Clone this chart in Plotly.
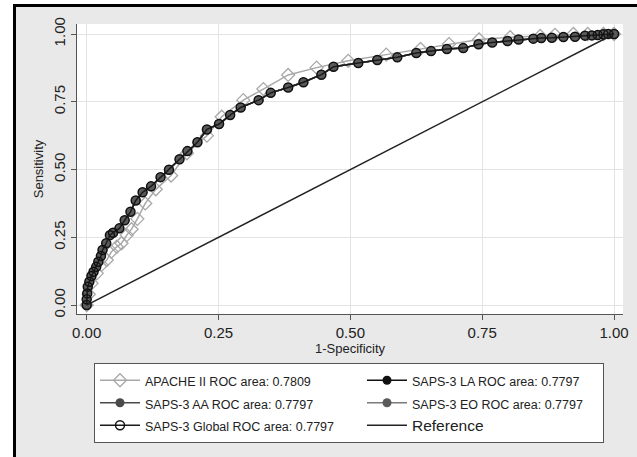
import plotly.graph_objects as go

# ---- data ----
saps_fpr = [0.0, 0.000, 0.001, 0.002, 0.005, 0.009, 0.013, 0.018, 0.022, 0.027, 0.030, 0.037,
            0.044, 0.050, 0.062, 0.072, 0.083, 0.093, 0.106, 0.122, 0.140, 0.156, 0.176, 0.191,
            0.210, 0.228, 0.251, 0.272, 0.292, 0.326, 0.349, 0.382, 0.411, 0.445, 0.468, 0.515,
            0.551, 0.589, 0.625, 0.653, 0.683, 0.714, 0.743, 0.769, 0.798, 0.819, 0.847, 0.862,
            0.882, 0.904, 0.926, 0.945, 0.958, 0.969, 0.980, 0.989, 1.0]
saps_tpr = [0.0, 0.021, 0.043, 0.068, 0.086, 0.107, 0.123, 0.141, 0.160, 0.181, 0.203, 0.228,
            0.258, 0.267, 0.283, 0.313, 0.344, 0.386, 0.416, 0.438, 0.472, 0.499, 0.538, 0.568,
            0.601, 0.648, 0.668, 0.701, 0.729, 0.756, 0.783, 0.803, 0.822, 0.850, 0.879, 0.893,
            0.904, 0.914, 0.930, 0.937, 0.945, 0.948, 0.962, 0.969, 0.974, 0.980, 0.983, 0.985,
            0.986, 0.989, 0.990, 0.994, 0.995, 0.996, 0.999, 1.0, 1.0]

apache_fpr = [0.0, 0.004, 0.009, 0.019, 0.028, 0.038, 0.047, 0.057, 0.066, 0.076, 0.085, 0.096,
              0.111, 0.131, 0.160, 0.190, 0.228, 0.256, 0.297, 0.335, 0.382, 0.436, 0.496, 0.568,
              0.633, 0.687, 0.744, 0.803, 0.860, 0.888, 0.923, 0.950, 0.980, 1.0]
apache_tpr = [0.0, 0.040, 0.080, 0.117, 0.148, 0.166, 0.197, 0.215, 0.228, 0.258, 0.280, 0.318,
              0.375, 0.427, 0.478, 0.560, 0.625, 0.695, 0.756, 0.797, 0.849, 0.876, 0.901, 0.924,
              0.945, 0.963, 0.980, 0.988, 0.993, 0.997, 1.0, 1.0, 1.0, 1.0]

ref_x = [0.0, 1.0]
ref_y = [0.0, 1.0]

tick_vals = [0.0, 0.25, 0.5, 0.75, 1.0]
tick_text = ["0.00", "0.25", "0.50", "0.75", "1.00"]

names = {
    "apache": "APACHE II ROC area: 0.7809",
    "la": "SAPS-3 LA ROC area: 0.7797",
    "aa": "SAPS-3 AA ROC area: 0.7797",
    "eo": "SAPS-3 EO ROC area: 0.7797",
    "glob": "SAPS-3 Global ROC area: 0.7797",
    "ref": "Reference",
}

FONT = "Liberation Sans, Arial, sans-serif"
COL1_W = 212
COL2_W = 186


def small(t, s=12.5):
    return f'<span style="font-size:{s}px">{t}</span>'


fig = go.Figure()
fig.add_trace(go.Scatter(x=apache_fpr, y=apache_tpr, mode="lines+markers", name=small(names["apache"]),
                         legendrank=1, legendwidth=COL1_W,
                         line=dict(color="#a8a8a8", width=1.5),
                         marker=dict(symbol="diamond-open", size=10, color="#a8a8a8", line=dict(width=1.3))))
fig.add_trace(go.Scatter(x=saps_fpr, y=saps_tpr, mode="lines+markers", name=small(names["aa"]),
                         legendrank=3, legendwidth=COL1_W,
                         line=dict(color="#4a4a4a", width=1.5),
                         marker=dict(symbol="circle", size=9, color="#4a4a4a")))
fig.add_trace(go.Scatter(x=saps_fpr, y=saps_tpr, mode="lines+markers", name=small(names["la"]),
                         legendrank=2, legendwidth=COL2_W,
                         line=dict(color="#111111", width=1.5),
                         marker=dict(symbol="circle", size=9, color="#111111")))
fig.add_trace(go.Scatter(x=saps_fpr, y=saps_tpr, mode="lines+markers", name=small(names["eo"]),
                         legendrank=4, legendwidth=COL2_W,
                         line=dict(color="#7a7a7a", width=1.5),
                         marker=dict(symbol="circle", size=9, color="#5a5a5a")))
fig.add_trace(go.Scatter(x=saps_fpr, y=saps_tpr, mode="lines+markers", name=small(names["glob"]),
                         legendrank=5, legendwidth=COL1_W,
                         line=dict(color="#1a1a1a", width=1.5),
                         marker=dict(symbol="circle-open", size=9, color="#111111", line=dict(width=1.5))))
fig.add_trace(go.Scatter(x=ref_x, y=ref_y, mode="lines", name=small(names["ref"], 15.5),
                         legendrank=6, legendwidth=COL2_W,
                         line=dict(color="#222222", width=1.5)))


def px_x(p):
    return (p - 77) / 546.0


def px_y(p):
    return (314 - p) / 290.0


shapes = [
    dict(type="rect", xref="paper", yref="paper", x0=px_x(0), x1=px_x(13), y0=px_y(457), y1=px_y(0),
         fillcolor="white", line=dict(width=0), layer="below"),
    dict(type="rect", xref="paper", yref="paper", x0=px_x(0), x1=px_x(637), y0=px_y(4), y1=px_y(0),
         fillcolor="white", line=dict(width=0), layer="below"),
    dict(type="line", xref="paper", yref="paper", x0=px_x(14.5), x1=px_x(14.5), y0=px_y(457), y1=px_y(4),
         line=dict(color="black", width=3)),
    dict(type="line", xref="paper", yref="paper", x0=px_x(13), x1=px_x(637), y0=px_y(5.5), y1=px_y(5.5),
         line=dict(color="black", width=3)),
]

axis_common = dict(
    tickvals=tick_vals, ticktext=tick_text,
    showline=True, linecolor="#555555", linewidth=1.2,
    ticks="outside", ticklen=5, tickcolor="#555555", tickwidth=1.2,
    showgrid=True, gridcolor="#e4e4e4", gridwidth=1,
    zeroline=False, mirror=False,
    tickfont=dict(family=FONT, size=15, color="#222222"),
)

fig.update_layout(
    width=637, height=457,
    margin=dict(l=77, r=14, t=24, b=143, autoexpand=False),
    paper_bgcolor="#e9e9e9", plot_bgcolor="white",
    font=dict(family=FONT, color="#222222"),
    xaxis=dict(range=[-0.0184, 1.017], automargin=False,
               title=dict(text="1-Specificity", font=dict(size=13), standoff=2),
               **axis_common),
    yaxis=dict(range=[-0.033, 1.037], tickangle=-90, automargin=False,
               title=dict(text="Sensitivity", font=dict(size=13), standoff=4), **axis_common),
    showlegend=True,
    legend=dict(orientation="h", x=px_x(94), y=px_y(363), xanchor="left", yanchor="top",
                bgcolor="white", bordercolor="#555555", borderwidth=1,
                font=dict(family=FONT, size=15, color="#222222"),
                itemwidth=40, entrywidthmode="pixels", traceorder="normal"),
    shapes=shapes,
)

fig.write_html("out.html", config={"displayModeBar": False},
               post_script="document.body.style.margin='0';document.body.style.overflow='hidden';")
